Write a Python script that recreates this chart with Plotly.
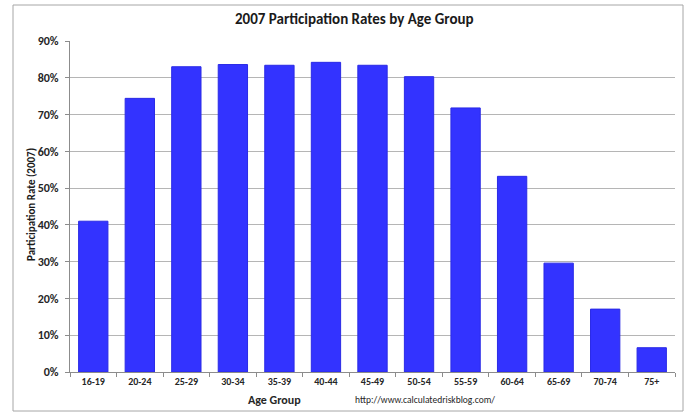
import plotly.graph_objects as go

# Labor force participation by age group, 2007
age_groups = ["16-19", "20-24", "25-29", "30-34", "35-39", "40-44", "45-49",
              "50-54", "55-59", "60-64", "65-69", "70-74", "75+"]
participation = [0.410, 0.744, 0.830, 0.836, 0.834, 0.842, 0.834,
                 0.803, 0.718, 0.532, 0.296, 0.171, 0.066]
y_ticks = [0, 0.1, 0.2, 0.3, 0.4, 0.5, 0.6, 0.7, 0.8, 0.9]

W, H = 688, 412
L, R, T, B = 70, 675, 41, 372  # plot area in pixels


def px_x(x):
    return (x - L) / (R - L)


def px_y(y):
    return (B - y) / (B - T)


FONT = "Carlito, Lato, sans-serif"
TXT = "#262626"

fig = go.Figure(
    go.Bar(
        x=age_groups,
        y=participation,
        marker=dict(color="#3333ff", line=dict(color="#2a2ae6", width=1)),
        hoverinfo="x+y",
    )
)

fig.update_layout(
    width=W,
    height=H,
    margin=dict(l=L, r=W - R, t=T, b=H - B),
    paper_bgcolor="white",
    plot_bgcolor="white",
    bargap=0.37,
    showlegend=False,
    font=dict(family=FONT, color=TXT),
)

fig.update_xaxes(
    type="category",
    showgrid=False,
    showline=True,
    linecolor="#8c8c8c",
    linewidth=1,
    ticks="outside",
    tickson="boundaries",
    ticklen=4,
    tickcolor="#8c8c8c",
    tickfont=dict(family=FONT, size=10, color=TXT, weight="bold"),
    fixedrange=True,
)

fig.update_yaxes(
    range=[0, 0.9],
    tickvals=y_ticks,
    tickformat=".0%",
    showgrid=True,
    gridcolor="#b5b5b5",
    gridwidth=1,
    showline=True,
    linecolor="#8c8c8c",
    linewidth=1,
    ticks="outside",
    ticklen=4,
    tickcolor="#8c8c8c",
    ticklabelstandoff=4,
    zeroline=False,
    tickfont=dict(family=FONT, size=12, color=TXT, weight="bold"),
    fixedrange=True,
)

# Outer chart border
fig.add_shape(
    type="rect", xref="paper", yref="paper",
    x0=px_x(13), x1=px_x(683), y0=px_y(411), y1=px_y(5),
    line=dict(color="#a6a6a6", width=1), fillcolor="rgba(0,0,0,0)", layer="below",
)

annotations = [
    dict(text="2007 Participation Rates by Age Group", x=px_x(354), y=px_y(19),
         font=dict(family=FONT, size=15, color="#1a1a1a", weight="bold")),
    dict(text="Age Group", x=px_x(274), y=px_y(400),
         font=dict(family=FONT, size=12, color=TXT, weight="bold")),
    dict(text="http://www.calculatedriskblog.com/", x=px_x(425), y=px_y(400),
         font=dict(family=FONT, size=9.5, color=TXT)),
    dict(text="Participation Rate (2007)", x=px_x(31), y=px_y(205), textangle=-90,
         font=dict(family=FONT, size=11, color="#1a1a1a", weight="bold")),
]
for a in annotations:
    fig.add_annotation(xref="paper", yref="paper", xanchor="center", yanchor="middle",
                       showarrow=False, **a)

fig.write_html("out.html")
